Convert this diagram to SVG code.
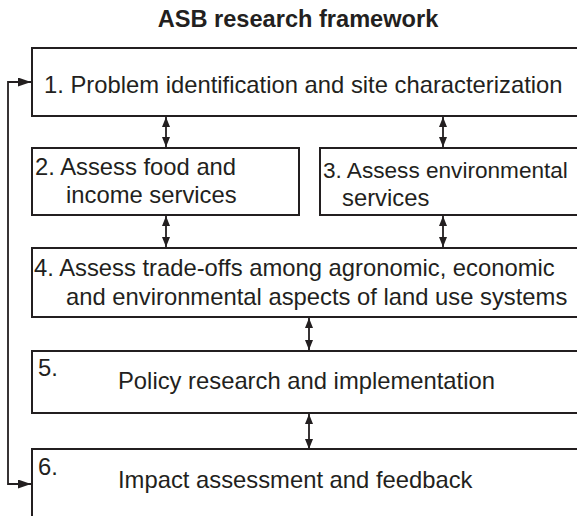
<svg xmlns="http://www.w3.org/2000/svg" width="577" height="516" viewBox="0 0 577 516">
<style>
.box{fill:#fff;stroke:#231f20;stroke-width:2}
.t{font-family:"Liberation Sans",Arial,sans-serif;font-size:23.8px;fill:#231f20}
.title{font-family:"Liberation Sans",Arial,sans-serif;font-size:23.6px;font-weight:bold;fill:#231f20}
.c{fill:none;stroke:#231f20;stroke-width:1.8}
</style>
<defs>
<marker id="ah" viewBox="0 0 10 8" refX="10" refY="4" markerWidth="10" markerHeight="8" markerUnits="userSpaceOnUse" orient="auto-start-reverse">
<path d="M0,0 L10,4 L0,8 Z" fill="#231f20"/>
</marker>
<marker id="ahw" viewBox="0 0 13 9" refX="13" refY="4.5" markerWidth="13" markerHeight="9" markerUnits="userSpaceOnUse" orient="auto-start-reverse">
<path d="M0,0 L13,4.5 L0,9 Z" fill="#231f20"/>
</marker>
</defs>
<rect width="577" height="516" fill="#fff"/>
<text class="title" x="298" y="27" text-anchor="middle">ASB research framework</text>
<g id="connectors">
<line class="c" x1="166" y1="117" x2="166" y2="147" marker-start="url(#ah)" marker-end="url(#ah)"/>
<line class="c" x1="443" y1="117" x2="443" y2="147" marker-start="url(#ah)" marker-end="url(#ah)"/>
<line class="c" x1="166" y1="216" x2="166" y2="247" marker-start="url(#ah)" marker-end="url(#ah)"/>
<line class="c" x1="443" y1="216" x2="443" y2="247" marker-start="url(#ah)" marker-end="url(#ah)"/>
<line class="c" x1="309" y1="318" x2="309" y2="350" marker-start="url(#ah)" marker-end="url(#ah)"/>
<line class="c" x1="309" y1="414" x2="309" y2="449" marker-start="url(#ah)" marker-end="url(#ah)"/>
<path class="c" d="M31,82 L8,82 L8,484 L31,484" marker-start="url(#ahw)" marker-end="url(#ahw)"/>
</g>
<g id="n1">
<rect class="box" x="32" y="48" width="560" height="68"/>
<text class="t" x="44" y="93">1. Problem identification and site characterization</text>
</g>
<g id="n2">
<rect class="box" x="32" y="148" width="267" height="67"/>
<text class="t" x="35" y="175">2. Assess food and</text>
<text class="t" x="66" y="203">income services</text>
</g>
<g id="n3">
<rect class="box" x="320" y="148" width="272" height="67"/>
<text class="t" x="323" y="178" style="font-size:22.6px">3. Assess environmental</text>
<text class="t" x="342" y="206">services</text>
</g>
<g id="n4">
<rect class="box" x="32" y="248" width="560" height="69"/>
<text class="t" x="34" y="276">4. Assess trade-offs among agronomic, economic</text>
<text class="t" x="66" y="305">and environmental aspects of land use systems</text>
</g>
<g id="n5">
<rect class="box" x="32" y="351" width="560" height="62"/>
<text class="t" x="38" y="376">5.</text>
<text class="t" x="118" y="389">Policy research and implementation</text>
</g>
<g id="n6">
<rect class="box" x="32" y="449" width="560" height="80"/>
<text class="t" x="38" y="475">6.</text>
<text class="t" x="118" y="488">Impact assessment and feedback</text>
</g>
</svg>
